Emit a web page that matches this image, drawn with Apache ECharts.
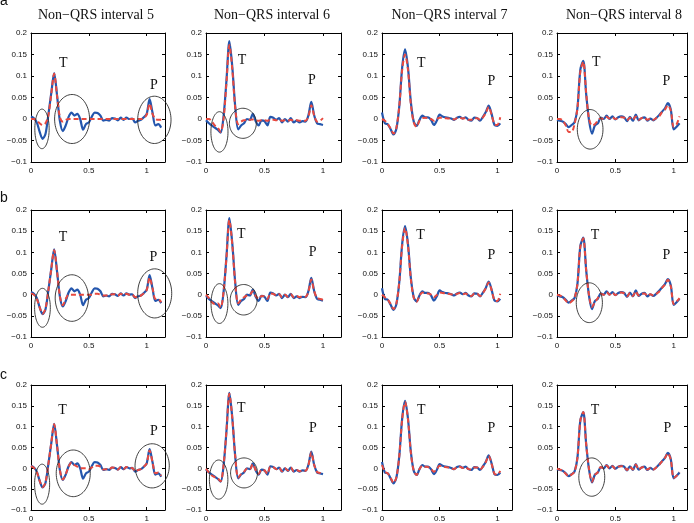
<!DOCTYPE html>
<html><head><meta charset="utf-8">
<script src="https://cdn.jsdelivr.net/npm/echarts@6/dist/echarts.min.js"></script>
<style>html,body{margin:0;padding:0;background:#fff}#c{width:694px;height:523px}</style>
</head><body><div id="c"></div>
<script>
// ---- data ----
const STEP = 0.025; // sampling step of the signals along x
const titles = ['Non\u2212QRS interval 5', 'Non\u2212QRS interval 6', 'Non\u2212QRS interval 7', 'Non\u2212QRS interval 8'];
const rowLetters = ['a', 'b', 'c'];
const xTickValues = [0, 0.5, 1];
const xTickLabels = ['0', '0.5', '1'];
const yTickValues = [-0.1, -0.05, 0, 0.05, 0.1, 0.15, 0.2];
const yTickLabels = ['\u22120.1', '\u22120.05', '0', '0.05', '0.1', '0.15', '0.2'];
const xMax = [1.158, 1.154, 1.127, 1.114];

// original signals (blue), same in every row
const blue5 = [0.006, 0.002, -0.008, -0.03, -0.046, -0.035, 0.01, 0.06, 0.107, 0.055, -0.005, -0.028, -0.015, 0.005, 0.015, 0.008, 0.012, 0.0, -0.025, -0.012, -0.008, 0.005, 0.015, 0.014, 0.008, -0.004, -0.002, -0.004, 0.002, 0.001, -0.003, 0.003, -0.002, 0.003, 0.0, 0.001, -0.008, -0.004, -0.002, 0.004, 0.012, 0.046, 0.015, -0.015, -0.012, -0.02];
const blue6 = [-0.003, -0.01, -0.015, -0.02, -0.025, -0.032, 0.006, 0.09, 0.181, 0.12, 0.028, -0.024, -0.015, -0.01, 0.0, -0.002, 0.012, -0.005, -0.015, -0.003, -0.005, -0.015, 0.005, 0.003, -0.002, 0.002, -0.008, 0.0, -0.006, 0.002, -0.008, -0.004, -0.008, -0.005, -0.006, 0.008, 0.04, 0.008, -0.01, -0.012, -0.014];
const blue7 = [0.015, -0.01, -0.012, -0.024, -0.036, -0.022, 0.03, 0.12, 0.162, 0.12, 0.04, -0.006, -0.016, -0.002, 0.008, 0.004, 0.004, -0.002, -0.014, -0.004, 0.01, 0.006, 0.004, 0.003, 0.001, -0.002, 0.003, 0.005, 0.001, 0.004, -0.002, -0.004, 0.003, 0.002, -0.004, 0.005, 0.016, 0.031, 0.012, -0.014, -0.016, -0.01];
const blue8 = [-0.002, -0.004, -0.006, -0.012, -0.019, -0.014, -0.008, 0.025, 0.115, 0.135, 0.058, -0.004, -0.034, -0.015, -0.01, 0.003, 0.0, 0.008, 0.0, 0.006, -0.001, 0.004, 0.006, 0.004, -0.005, 0.005, -0.004, 0.01, -0.003, 0.002, 0.004, -0.004, 0.001, -0.003, 0.002, 0.009, 0.017, 0.025, 0.037, 0.022, -0.024, -0.018, -0.01];

// reconstructions (red dashed), rows a, b, c
const red5a = [0, 0, -0.004, -0.01, -0.014, -0.01, 0.008, 0.058, 0.105, 0.055, 0.004, -0.006, -0.002, 0, 0, 0, 0, 0, 0, 0, 0, 0, 0, 0, 0, 0, 0, 0, 0, 0, 0, 0, 0, 0, 0, 0, 0, 0, 0, 0.002, 0.01, 0.036, 0.012, 0, -0.002, -0.002];
const red6a = [0, 0, -0.006, -0.015, -0.02, -0.03, 0, 0.085, 0.172, 0.115, 0.025, -0.012, -0.006, -0.003, -0.002, -0.002, -0.001, -0.003, -0.004, -0.003, -0.003, -0.004, -0.002, -0.002, -0.003, -0.002, -0.004, -0.003, -0.004, -0.002, -0.004, -0.003, -0.004, -0.004, -0.004, 0.005, 0.032, 0.008, -0.006, -0.004, 0.002];
const red7a = [0, -0.004, -0.012, -0.022, -0.034, -0.02, 0.03, 0.115, 0.15, 0.115, 0.035, -0.008, -0.018, -0.004, 0.002, 0.003, 0.002, 0, -0.004, 0, 0.003, 0.003, 0.002, 0.001, 0.001, -0.001, 0.002, 0.003, 0.001, 0.002, -0.002, -0.002, 0.002, 0.002, -0.002, 0.004, 0.014, 0.028, 0.01, -0.012, -0.014, 0.004];
const red8a = [0, 0, -0.004, -0.015, -0.03, -0.03, -0.012, 0.025, 0.11, 0.133, 0.06, 0, -0.015, -0.012, -0.004, 0.002, 0, 0.005, 0.001, 0.004, 0, 0.003, 0.004, 0.003, -0.003, 0.003, -0.002, 0.006, -0.002, 0.002, 0.003, -0.002, 0.001, -0.002, 0.002, 0.006, 0.016, 0.022, 0.032, 0.02, -0.018, -0.012, 0.006];

const red5b = [0.003, 0, -0.01, -0.03, -0.045, -0.033, 0.01, 0.06, 0.105, 0.055, -0.004, -0.025, -0.01, 0, 0, 0, 0, 0, 0, 0, 0, 0, 0.002, 0.002, 0, -0.002, -0.002, -0.002, 0.001, 0.001, -0.002, 0.002, -0.001, 0.002, 0, 0, -0.006, -0.004, -0.002, 0.003, 0.011, 0.04, 0.016, -0.01, -0.01, -0.018];
const red6b = [0, -0.008, -0.018, -0.022, -0.02, -0.03, 0.006, 0.088, 0.176, 0.118, 0.026, -0.02, -0.012, -0.006, -0.002, 0, 0.008, -0.003, -0.01, -0.003, -0.004, -0.01, 0.003, 0.002, -0.002, 0.001, -0.006, 0, -0.005, 0.001, -0.006, -0.003, -0.006, -0.004, -0.005, 0.006, 0.036, 0.008, -0.008, -0.01, -0.012];
const red7b = [0, -0.006, -0.012, -0.022, -0.034, -0.02, 0.03, 0.116, 0.157, 0.117, 0.037, -0.007, -0.017, -0.003, 0.005, 0.003, 0.003, 0, -0.006, -0.001, 0.005, 0.004, 0.003, 0.002, 0.001, -0.001, 0.002, 0.004, 0.001, 0.003, -0.002, -0.003, 0.002, 0.002, -0.003, 0.004, 0.015, 0.029, 0.011, -0.013, -0.015, 0.002];
const red8b = [0, -0.002, -0.006, -0.014, -0.02, -0.016, -0.008, 0.025, 0.113, 0.133, 0.058, -0.002, -0.029, -0.018, -0.008, 0.002, 0, 0.006, 0, 0.005, -0.001, 0.003, 0.005, 0.003, -0.004, 0.004, -0.003, 0.008, -0.002, 0.002, 0.003, -0.003, 0.001, -0.002, 0.002, 0.007, 0.016, 0.024, 0.035, 0.02, -0.022, -0.016, -0.008];

const red5c = [0.005, 0.001, -0.009, -0.03, -0.045, -0.034, 0.01, 0.06, 0.106, 0.055, -0.005, -0.027, -0.014, 0.004, 0.014, 0.008, 0.004, 0, 0, 0, -0.002, 0.002, 0.006, 0.006, 0.004, -0.003, -0.002, -0.003, 0.002, 0.001, -0.003, 0.003, -0.002, 0.003, 0, 0.001, -0.007, -0.004, -0.002, 0.004, 0.012, 0.043, 0.015, -0.012, -0.01, -0.018];
const red6c = [-0.001, -0.01, -0.017, -0.021, -0.024, -0.031, 0.007, 0.09, 0.179, 0.12, 0.028, -0.022, -0.014, -0.008, -0.001, -0.002, 0.01, -0.004, -0.013, -0.003, -0.005, -0.013, 0.004, 0.003, -0.002, 0.002, -0.007, 0, -0.005, 0.002, -0.007, -0.004, -0.007, -0.005, -0.006, 0.007, 0.038, 0.008, -0.009, -0.011, -0.013];
const red7c = [0.008, -0.008, -0.012, -0.023, -0.035, -0.021, 0.03, 0.118, 0.159, 0.118, 0.038, -0.006, -0.016, -0.002, 0.006, 0.004, 0.003, -0.001, -0.008, -0.002, 0.006, 0.005, 0.003, 0.002, 0.001, -0.002, 0.003, 0.004, 0.001, 0.003, -0.002, -0.003, 0.002, 0.002, -0.003, 0.004, 0.015, 0.03, 0.011, -0.013, -0.015, -0.006];
const red8c = [-0.001, -0.003, -0.006, -0.013, -0.019, -0.015, -0.008, 0.025, 0.115, 0.135, 0.058, -0.003, -0.032, -0.016, -0.009, 0.003, 0, 0.007, 0, 0.005, -0.001, 0.004, 0.005, 0.004, -0.004, 0.004, -0.003, 0.009, -0.003, 0.002, 0.003, -0.003, 0.001, -0.003, 0.002, 0.008, 0.017, 0.025, 0.036, 0.021, -0.023, -0.018, -0.009];

// highlighted regions: [centre x, centre y, half-width, half-height] in data units
const ellipsesA = [[[0.095, -0.023, 0.062, 0.046], [0.355, 0.0, 0.151, 0.057], [1.066, -0.002, 0.144, 0.055]], [[0.115, -0.03, 0.073, 0.047], [0.315, -0.01, 0.115, 0.035]], [], [[0.284, -0.024, 0.11, 0.046]]];
const ellipsesB = [[[0.099, -0.031, 0.068, 0.046], [0.353, -0.008, 0.144, 0.055], [1.069, 0.003, 0.147, 0.058]], [[0.115, -0.021, 0.072, 0.047], [0.322, -0.012, 0.115, 0.036]], [], [[0.277, -0.019, 0.112, 0.047]]];
const ellipsesC = [[[0.096, -0.038, 0.065, 0.048], [0.365, -0.012, 0.147, 0.056], [1.047, 0.006, 0.148, 0.053]], [[0.108, -0.027, 0.079, 0.047], [0.325, -0.011, 0.115, 0.036]], [], [[0.298, -0.021, 0.111, 0.046]]];

// wave annotations
const waveNames = ['T', 'P'];
const wavePosA = [[[0.28, 0.13], [1.063, 0.078]], [[0.308, 0.137], [0.906, 0.09]], [[0.341, 0.13], [0.948, 0.0875]], [[0.337, 0.132], [0.937, 0.0875]]];
const wavePosB = [[[0.276, 0.135], [1.057, 0.0886]], [[0.302, 0.143], [0.911, 0.099]], [[0.335, 0.139], [0.948, 0.093]], [[0.326, 0.139], [0.937, 0.094]]];
const wavePosC = [[[0.273, 0.14], [1.063, 0.089]], [[0.302, 0.144], [0.914, 0.097]], [[0.341, 0.14], [0.948, 0.095]], [[0.326, 0.14], [0.945, 0.095]]];

// ---- layout & build ----
const blues = [blue5, blue6, blue7, blue8];
const reds = [[red5a, red6a, red7a, red8a], [red5b, red6b, red7b, red8b], [red5c, red6c, red7c, red8c]];
const ells = [ellipsesA, ellipsesB, ellipsesC];
const waves = [wavePosA, wavePosB, wavePosC];

const gridLeft = [31, 206, 382, 557];
const gridWidth = [134, 135, 130, 130];
const gridTop = [33, 210, 385];
const gridHeight = [129, 127, 127];
const titleX = [96, 272, 449.5, 624];
const letterY = [1, 198, 375];

const SANS = 'Liberation Sans, Arial, Helvetica, sans-serif';
const SERIF = 'Liberation Serif, Times New Roman, serif';

function pick(values, labels) {
  return function (v) {
    const i = values.findIndex(t => Math.abs(t - v) < 1e-6);
    return i >= 0 ? labels[i] : '';
  };
}
const toXY = arr => arr.map((v, i) => [i * STEP, v]);

const grid = [], xAxis = [], yAxis = [], series = [];
for (let r = 0; r < 3; r++) {
  for (let c = 0; c < 4; c++) {
    const g = grid.length;
    grid.push({ left: gridLeft[c], top: gridTop[r], width: gridWidth[c], height: gridHeight[r] });
    const axLine = { show: true, onZero: false, lineStyle: { color: '#000', width: 1 } };
    const tick = { show: true, inside: true, length: 3, lineStyle: { color: '#000', width: 1 } };
    xAxis.push({ gridIndex: g, type: 'value', min: 0, max: xMax[c], interval: 0.5, position: 'bottom',
      axisLine: axLine, axisTick: tick, splitLine: { show: false },
      axisLabel: { fontSize: 8, color: '#111', margin: 5, fontFamily: SANS, formatter: pick(xTickValues, xTickLabels) } });
    xAxis.push({ gridIndex: g, type: 'value', min: 0, max: xMax[c], interval: 0.5, position: 'top',
      axisLine: axLine, axisTick: tick, splitLine: { show: false }, axisLabel: { show: false } });
    yAxis.push({ gridIndex: g, type: 'value', min: -0.1, max: 0.2, interval: 0.05, position: 'left',
      axisLine: axLine, axisTick: tick, splitLine: { show: false },
      axisLabel: { fontSize: 8, color: '#111', margin: 4, fontFamily: SANS, formatter: pick(yTickValues, yTickLabels) } });
    yAxis.push({ gridIndex: g, type: 'value', min: -0.1, max: 0.2, interval: 0.05, position: 'right',
      axisLine: axLine, axisTick: tick, splitLine: { show: false }, axisLabel: { show: false } });
    const xi = 2 * g, yi = 2 * g;
    series.push({ type: 'line', xAxisIndex: xi, yAxisIndex: yi, data: toXY(blues[c]), showSymbol: false, symbol: 'none',
      smooth: 0.3, lineStyle: { color: '#2456ad', width: 2.2 }, z: 2, animation: false });
    series.push({ type: 'line', xAxisIndex: xi, yAxisIndex: yi, data: toXY(reds[r][c]), showSymbol: false, symbol: 'none',
      smooth: 0.3, lineStyle: { color: '#e8493f', width: 2, type: [5, 3] }, z: 3, animation: false });
    series.push({ type: 'custom', xAxisIndex: xi, yAxisIndex: yi, data: ells[r][c], silent: true, clip: false, z: 4,
      dimensions: ['x', 'y', 'rx', 'ry'], encode: { x: 0, y: 1 }, animation: false,
      renderItem: function (params, api) {
        const p = api.coord([api.value(0), api.value(1)]);
        const s = api.size([api.value(2), api.value(3)]);
        const pts = [];
        for (let k = 0; k < 72; k++) {
          const a = k / 72 * Math.PI * 2;
          pts.push([p[0] + s[0] * Math.cos(a), p[1] + s[1] * Math.sin(a)]);
        }
        return { type: 'polygon', shape: { points: pts }, style: { fill: 'none', stroke: '#2a2a2a', lineWidth: 0.9 } };
      } });
    series.push({ type: 'custom', xAxisIndex: xi, yAxisIndex: yi, data: waves[r][c], silent: true, clip: false, z: 5,
      encode: { x: 0, y: 1 }, animation: false,
      renderItem: function (params, api) {
        const p = api.coord([api.value(0), api.value(1)]);
        return { type: 'text', x: p[0], y: p[1], style: { text: waveNames[params.dataIndex], fontSize: 14, fontFamily: SERIF,
          fill: '#111', align: 'center', verticalAlign: 'middle' } };
      } });
  }
}

const graphic = [];
titles.forEach((t, i) => graphic.push({ type: 'text', x: titleX[i], y: 15, silent: true,
  style: { text: t, fontSize: 14, fontFamily: SERIF, fill: '#111', align: 'center', verticalAlign: 'middle' } }));
rowLetters.forEach((t, i) => graphic.push({ type: 'text', x: 0, y: letterY[i], silent: true,
  style: { text: t, fontSize: 14, fontFamily: SANS, fill: '#111', align: 'left', verticalAlign: 'middle' } }));

const chart = echarts.init(document.getElementById('c'), null, { renderer: 'canvas' });
chart.setOption({ animation: false, backgroundColor: '#fff', grid, xAxis, yAxis, series, graphic });
</script></body></html>
